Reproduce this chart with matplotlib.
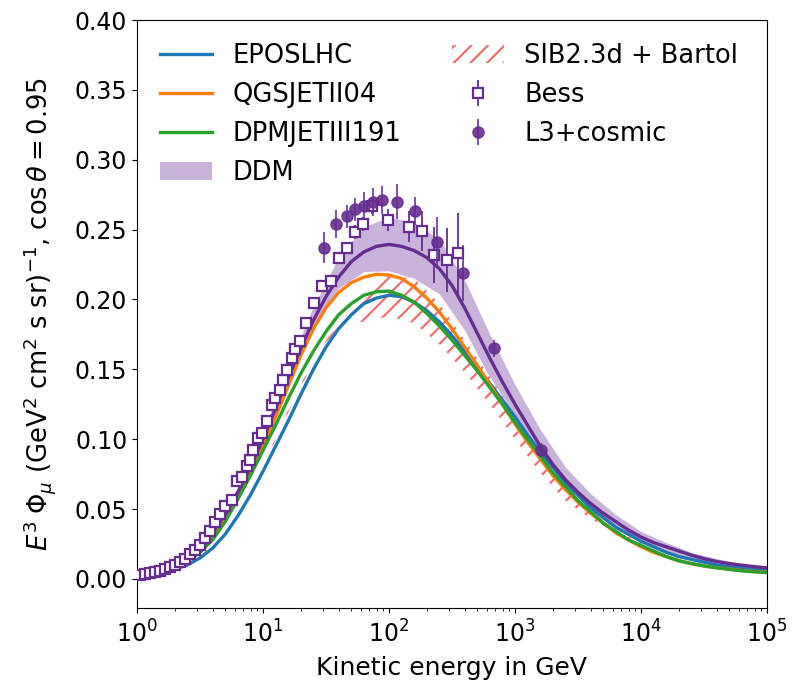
import numpy as np
import matplotlib
matplotlib.use("Agg")
import matplotlib.pyplot as plt

# ---------------- data ----------------
log_e = [0.0, 0.1, 0.2, 0.3, 0.4, 0.5, 0.6, 0.7, 0.8, 0.9,
         1.0, 1.1, 1.2, 1.3, 1.4, 1.5, 1.6, 1.7, 1.8, 1.9,
         2.0, 2.1, 2.2, 2.3, 2.4, 2.5, 2.6, 2.7, 2.8, 2.9,
         3.0, 3.1, 3.2, 3.3, 3.4, 3.5, 3.6, 3.7, 3.8, 3.9,
         4.0, 4.1, 4.2, 4.3, 4.4, 4.5, 4.6, 4.7, 4.8, 4.9, 5.0]

eposlhc = [0.003, 0.004, 0.005, 0.007, 0.010, 0.015, 0.022, 0.032, 0.045, 0.060,
           0.077, 0.095, 0.113, 0.132, 0.150, 0.166, 0.179, 0.189, 0.197, 0.201,
           0.203, 0.202, 0.198, 0.192, 0.184, 0.174, 0.163, 0.152, 0.140, 0.128,
           0.116, 0.103, 0.091, 0.080, 0.069, 0.060, 0.051, 0.044, 0.037, 0.032,
           0.027, 0.023, 0.019, 0.016, 0.014, 0.012, 0.010, 0.0088, 0.0077, 0.0068, 0.006]
qgsjet = [0.003, 0.004, 0.006, 0.009, 0.013, 0.020, 0.029, 0.042, 0.058, 0.076,
          0.095, 0.116, 0.138, 0.160, 0.179, 0.194, 0.205, 0.212, 0.216, 0.218,
          0.2175, 0.215, 0.209, 0.201, 0.191, 0.179, 0.166, 0.153, 0.139, 0.125,
          0.111, 0.098, 0.086, 0.074, 0.064, 0.055, 0.047, 0.040, 0.033, 0.028,
          0.023, 0.019, 0.016, 0.013, 0.011, 0.0093, 0.008, 0.007, 0.006, 0.0053, 0.0047]
dpmjet = [0.003, 0.004, 0.006, 0.009, 0.013, 0.019, 0.028, 0.041, 0.057, 0.074,
          0.092, 0.110, 0.129, 0.147, 0.163, 0.177, 0.189, 0.197, 0.203, 0.2055,
          0.206, 0.203, 0.198, 0.190, 0.181, 0.171, 0.160, 0.149, 0.137, 0.125,
          0.112, 0.100, 0.088, 0.076, 0.066, 0.056, 0.048, 0.040, 0.034, 0.028,
          0.024, 0.020, 0.016, 0.013, 0.011, 0.0093, 0.008, 0.0068, 0.0058, 0.0051, 0.0045]
ddm = [0.003, 0.005, 0.0075, 0.011, 0.016, 0.023, 0.033, 0.046, 0.062, 0.080,
       0.100, 0.122, 0.144, 0.165, 0.185, 0.202, 0.216, 0.227, 0.234, 0.238,
       0.2394, 0.238, 0.235, 0.230, 0.222, 0.210, 0.194, 0.176, 0.158, 0.141,
       0.125, 0.110, 0.095, 0.082, 0.071, 0.062, 0.054, 0.047, 0.041, 0.035,
       0.030, 0.026, 0.023, 0.020, 0.017, 0.0145, 0.0125, 0.011, 0.0098, 0.0088, 0.0079]

band_log_e = [0.0, 0.2, 0.4, 0.6, 0.8, 1.0, 1.2, 1.4, 1.6, 1.8, 2.0, 2.2, 2.4,
              2.6, 2.8, 3.0, 3.2, 3.4, 3.6, 3.8, 4.0, 4.2, 4.4, 4.6, 4.8, 5.0]
ddm_lo = [0.003, 0.0073, 0.0155, 0.032, 0.060, 0.098, 0.141, 0.181, 0.208, 0.220,
          0.2205, 0.215, 0.204, 0.178, 0.144, 0.113, 0.085, 0.063, 0.048, 0.036,
          0.026, 0.019, 0.014, 0.011, 0.0086, 0.0067]
ddm_hi = [0.003, 0.0078, 0.017, 0.035, 0.066, 0.106, 0.152, 0.195, 0.230, 0.252,
          0.259, 0.255, 0.243, 0.214, 0.175, 0.139, 0.107, 0.080, 0.061, 0.046,
          0.034, 0.026, 0.019, 0.0145, 0.011, 0.0091]

sib_log_e = [1.0, 1.2, 1.4, 1.6, 1.7, 1.8, 2.0, 2.2, 2.4, 2.6, 2.8, 3.0, 3.2,
             3.4, 3.6, 3.8, 4.0]
sib_lo = [0.080, 0.119, 0.155, 0.181, 0.184, 0.184, 0.188, 0.183, 0.168, 0.148,
          0.125, 0.100, 0.076, 0.056, 0.043, 0.033, 0.025]
sib_hi = [0.081, 0.121, 0.157, 0.184, 0.196, 0.206, 0.217, 0.215, 0.197, 0.171,
          0.145, 0.117, 0.090, 0.067, 0.049, 0.035, 0.026]

bess_log_e = [0.02, 0.06, 0.10, 0.14, 0.18, 0.22, 0.26, 0.30, 0.34, 0.38, 0.42,
              0.46, 0.50, 0.54, 0.58, 0.62, 0.66, 0.70, 0.751, 0.791, 0.831,
              0.870, 0.897, 0.923, 0.963, 0.989, 1.029, 1.069, 1.095, 1.135,
              1.161, 1.188, 1.228, 1.254, 1.294, 1.341, 1.407, 1.466, 1.537,
              1.60, 1.67, 1.73, 1.79, 1.865, 1.99, 2.16, 2.26, 2.36, 2.46, 2.55]
bess_val = [0.0030, 0.0035, 0.0042, 0.0050, 0.0060, 0.0072, 0.0086, 0.0102,
            0.0122, 0.0146, 0.0175, 0.0205, 0.0245, 0.0292, 0.0345, 0.0405,
            0.0465, 0.0525, 0.0566, 0.0698, 0.0733, 0.0805, 0.0853, 0.0925,
            0.1009, 0.1044, 0.1128, 0.1247, 0.1296, 0.1355, 0.1427, 0.1498,
            0.1582, 0.1642, 0.1702, 0.1833, 0.1977, 0.2096, 0.2131, 0.2300,
            0.2370, 0.2480, 0.2540, 0.2670, 0.2570, 0.2520, 0.2490, 0.2320,
            0.2280, 0.2330]
bess_err = [0.0002] * 30 + [0.002, 0.002, 0.002, 0.002, 0.003, 0.003, 0.003,
                            0.003, 0.004, 0.004, 0.004, 0.005, 0.005, 0.006,
                            0.008, 0.011, 0.014, 0.020, 0.023, 0.029]

l3_log_e = [1.484, 1.579, 1.667, 1.730, 1.802, 1.873, 1.944, 2.063, 2.206,
            2.381, 2.587, 2.833, 3.206]
l3_val = [0.237, 0.254, 0.2595, 0.2645, 0.267, 0.270, 0.271, 0.270, 0.263,
          0.241, 0.219, 0.165, 0.092]
l3_err = [0.011, 0.010, 0.008, 0.008, 0.010, 0.010, 0.010, 0.0125, 0.010,
          0.018, 0.020, 0.006, 0.005]

# ---------------- styling ----------------
C_BLUE = "#1f77b4"
C_ORANGE = "#ff7f0e"
C_GREEN = "#2ca02c"
C_PURPLE = "#662d91"
C_BAND = "#c9b3da"
C_HATCH = "#f07070"

plt.rcParams["hatch.linewidth"] = 1.6
plt.rcParams["font.family"] = ["DejaVu Sans"]

fig = plt.figure(figsize=(7.92, 6.91), dpi=100)
ax = fig.add_axes([137 / 792, 1 - 608 / 691, 630 / 792, 588 / 691])

E = 10 ** np.array(log_e)
Eb = 10 ** np.array(band_log_e)
Es = 10 ** np.array(sib_log_e)

ax.plot(E, eposlhc, color=C_BLUE, lw=2.4, label="EPOSLHC", zorder=4)
ax.plot(E, qgsjet, color=C_ORANGE, lw=2.4, label="QGSJETII04", zorder=4)
ax.plot(E, dpmjet, color=C_GREEN, lw=2.4, label="DPMJETIII191", zorder=4)
ax.fill_between(Eb, ddm_lo, ddm_hi, color=C_BAND, lw=0, label="DDM", zorder=1)
ax.fill_between(Es, sib_lo, sib_hi, facecolor="white", edgecolor=C_HATCH,
                hatch="//", lw=0, label="SIB2.3d + Bartol", zorder=2)
ax.plot(E, ddm, color=C_PURPLE, lw=2.4, zorder=4)

ax.errorbar(10 ** np.array(bess_log_e), bess_val, yerr=bess_err, fmt="s",
            ms=7, mfc="white", mec=C_PURPLE, mew=1.6, color=C_PURPLE,
            elinewidth=1.3, label="Bess", zorder=5)
ax.errorbar(10 ** np.array(l3_log_e), l3_val, yerr=l3_err, fmt="o",
            ms=8, color=C_PURPLE, alpha=0.9, elinewidth=1.3, label="L3+cosmic",
            zorder=6)

ax.set_xscale("log")
ax.set_xlim(1, 1e5)
ax.set_ylim(-0.0208, 0.40)
ax.set_yticks(np.arange(0, 0.401, 0.05))
ax.tick_params(labelsize=17)
ax.tick_params(axis="x", which="major", pad=5.5)
ax.set_xlabel("Kinetic energy in GeV", fontsize=18, labelpad=6)
ax.set_ylabel(r"$E^3\;\Phi_\mu$ (GeV$^2$ cm$^2$ s sr)$^{-1}$, $\cos\theta = 0.95$",
              fontsize=18.5, labelpad=12)

handles, labels = ax.get_legend_handles_labels()
order = ["EPOSLHC", "QGSJETII04", "DPMJETIII191", "DDM", "SIB2.3d + Bartol",
         "Bess", "L3+cosmic"]
hmap = dict(zip(labels, handles))
ax.legend([hmap[k] for k in order], order, loc="upper left", ncol=2,
          frameon=False, fontsize=18.5)

fig.savefig("out.png", dpi=100)
